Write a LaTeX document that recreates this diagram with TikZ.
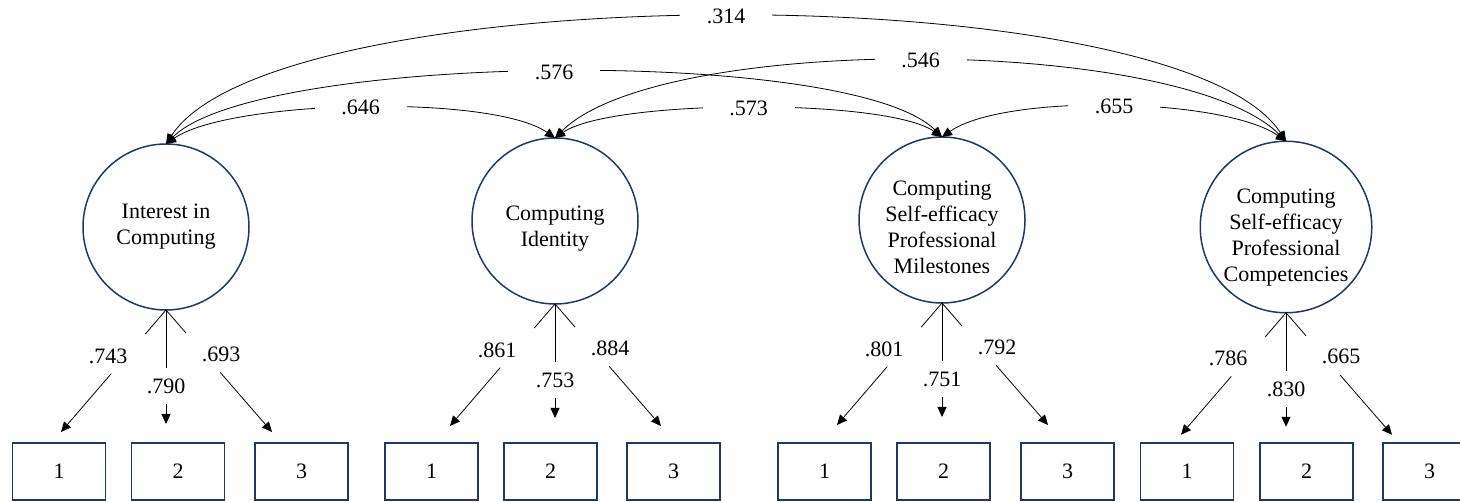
\documentclass[tikz,border=0pt]{standalone}
\usepackage{fontspec}
\setmainfont{Liberation Serif}
\usetikzlibrary{arrows.meta,calc}
\definecolor{latent}{RGB}{31,56,100}

\begin{document}
\begin{tikzpicture}[x=0.5pt,y=0.5pt,>={Triangle[length=5pt,width=4.5pt]},
  font=\fontsize{11}{13}\selectfont,
  factor/.style={draw=latent,line width=.75pt,circle,minimum size=83pt,inner sep=0pt,outer sep=0pt,align=center},
  indicator/.style={draw=latent,line width=.75pt,minimum width=46.5pt,minimum height=28.5pt,inner sep=0pt,outer sep=0pt},
  cov/.style={<->,line width=.4pt},
  load/.style={->,line width=.4pt},
  est/.style={inner sep=1pt},
  covlbl/.style={est,fill=white,minimum width=46pt},
  gapnode/.style={fill=white,circle,minimum size=26pt,inner sep=0pt},
  midlbl/.style={est,fill=white,minimum height=18pt}]
\useasboundingbox (0,0) rectangle (1460,502);

% latent factors
\node[factor] (F1) at (166,275) {Interest in\\Computing};
\node[factor] (F2) at (555,281) {\rule{0pt}{15pt}Computing\\Identity};
\node[factor] (F3) at (942,282) {\rule{0pt}{15pt}Computing\\Self-efficacy\\Professional\\Milestones};
\node[factor] (F4) at (1286,275) {\rule{0pt}{18pt}Computing\\Self-efficacy\\Professional\\Competencies};

% indicators
\foreach \f/\i/\x in {1/1/59,1/2/178,1/3/301.5,2/1/431.5,2/2/550.5,2/3/673.5,
  3/1/824.5,3/2/943.5,3/3/1067.5,4/1/1187,4/2/1306.5,4/3/1429.5}
  \node[indicator] (I\f\i) at (\x,30.5) {\i};

% loadings
\foreach \f/\a/\b/\c in {1/.743/.790/.693,2/.861/.753/.884,3/.801/.751/.792,4/.786/.830/.665} {
  \coordinate (L\f) at ($(F\f.south)+(-105,-122)$);
  \coordinate (M\f) at ($(F\f.south)+(0,-114)$);
  \coordinate (R\f) at ($(F\f.south)+(106,-122)$);
  \draw[load] (F\f.south) -- node[gapnode,pos=.36] {} (L\f);
  \draw[load] (F\f.south) -- node[midlbl,pos=.67] {\b} (M\f);
  \draw[load] (F\f.south) -- node[gapnode,pos=.35] {} (R\f);
  \node[est] (a\f) at ($(F\f.south)+(-58,-46)$) {\a};
  \node[est] (c\f) at ($(F\f.south)+(55,-44)$) {\c};
}

% covariances
\draw[cov] (F1.north) .. controls +(35:77) and +(145:77) .. (F2.north) node[covlbl,midway] {.646};
\draw[cov] (F1.north) .. controls +(45:129) and +(135:129) .. (F3.north) node[covlbl,midway] {.576};
\draw[cov] (F1.north) .. controls +(57:200) and +(123:200) .. (F4.north) node[covlbl,midway] {.314};
\draw[cov] (F2.north) .. controls +(35:68) and +(145:68) .. (F3.north) node[covlbl,midway] {.573};
\draw[cov] (F2.north) .. controls +(45:149) and +(135:149) .. (F4.north) node[covlbl,midway] {.546};
\draw[cov] (F3.north) .. controls +(35:76) and +(145:76) .. (F4.north) node[covlbl,midway] {.655};
\end{tikzpicture}
\end{document}
